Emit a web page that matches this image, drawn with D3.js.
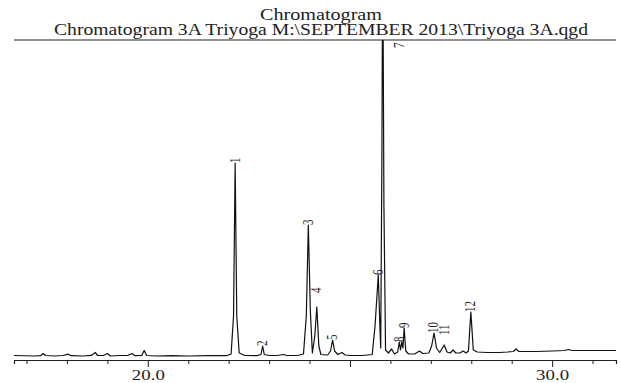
<!DOCTYPE html>
<html lang="en">
<head>
<meta charset="utf-8">
<title>Chromatogram</title>
<script src="https://cdn.jsdelivr.net/npm/d3@7/dist/d3.min.js"></script>
<style>
body{margin:0;background:#fff;}
svg text{font-family:"Liberation Serif","Times New Roman",serif;fill:#222;}
</style>
</head>
<body>
<div id="chart"></div>
<script>
// header text
var titleLines = ["Chromatogram", "Chromatogram 3A Triyoga M:\\SEPTEMBER 2013\\Triyoga 3A.qgd"]

// trace: retention time (min) and detector signal
var traceTime = [16.69, 17.2, 17.35, 17.41, 17.47, 17.7, 17.9, 18.03, 18.1, 18.4, 18.6, 18.7, 18.76, 18.9, 19.0, 19.07,
  19.3, 19.5, 19.61, 19.68, 19.85, 19.91, 19.97, 20.2, 20.6, 21.0, 21.5, 21.95, 22.06, 22.12, 22.16, 22.2, 22.26,
  22.4, 22.7, 22.8, 22.84, 22.88, 23.0, 23.2, 23.35, 23.45, 23.7, 23.85, 23.92, 23.97, 24.02, 24.07, 24.13, 24.18,
  24.23, 24.28, 24.45, 24.52, 24.57, 24.62, 24.7, 24.8, 24.88, 25.0, 25.3, 25.55, 25.62, 25.7, 25.74, 25.76, 25.79,
  25.81, 25.84, 25.88, 25.95, 26.03, 26.1, 26.18, 26.22, 26.25, 26.28, 26.31, 26.34, 26.38, 26.45, 26.6, 26.72,
  26.8, 26.95, 27.02, 27.08, 27.14, 27.22, 27.33, 27.4, 27.48, 27.55, 27.62, 27.72, 27.8, 27.87, 27.93, 27.99,
  28.05, 28.15, 28.4, 28.7, 28.9, 29.04, 29.11, 29.18, 29.3, 29.6, 30.0, 30.3, 30.4, 30.5, 31.0, 31.58]
var traceSignal = [0.5, 0, 0.3, 2.5, 0.5, 0, 0.5, 1.8, 0.3, 0, 0.6, 3.5, 0.5, 0.5, 2.5, 0,
  0.5, 0.5, 2.5, 0.3, 0.5, 5.5, 0.5, 0, 0.3, 0, 0.3, 0.3, 2, 40, 193, 40, 3,
  0.5, 0.3, 1.5, 10, 1.5, 0.5, 0.5, 1.5, 0.5, 0.5, 2, 40, 131, 45, 3, 20, 49,
  10, 1.5, 1, 5, 16, 5, 1.5, 3.5, 1, 0.5, 0.5, 1.5, 30, 81, 30, 8, 200,
  420, 150, 6, 3, 7, 2, 4, 14, 6, 14, 8, 28, 5, 2, 2, 5,
  2.5, 3, 10, 23, 8, 3.5, 11, 4, 3, 6, 3, 3, 5, 3, 5, 44,
  6, 4, 3.5, 3.5, 4, 4.5, 7, 4.5, 4.5, 4.5, 5, 5.5, 6.5, 5.5, 5.5, 5.5]

// numbered peaks
var peakNames = ["1", "2", "3", "4", "5", "6", "7", "8", "9", "10", "11", "12"]
var peakTimes = [22.16, 22.84, 23.97, 24.18, 24.57, 25.70, 25.81, 26.22, 26.34, 27.08, 27.33, 27.99]
var peakSignal = [193, 10, 131, 49, 16, 81, 420, 14, 28, 23, 11, 44]

// axis
var tickValues = [17, 18, 19, 20, 21, 22, 23, 24, 25, 26, 27, 28, 29, 30, 31]
var tickLabels = {20: "20.0", 30: "30.0"}

var w = 621, h = 383
var mLeft = 14, mRight = 616, plotTop = 40, base = 356, axisY = 360

var x = d3.scaleLinear().domain([16.69, 31.58]).range([mLeft, mRight])
var y = d3.scaleLinear().domain([0, 316]).range([base, plotTop])

var svg = d3.select("#chart").append("svg")
  .attr("width", w)
  .attr("height", h)

// title (the scan is stretched sideways, so the text is too)
var titleWidth = [122, 534]
svg.selectAll(".title")
  .data(titleLines)
  .enter()
  .append("text")
  .attr("class", "title")
  .attr("x", 321)
  .attr("y", function(d, i){ return 20 + i * 15 })
  .attr("text-anchor", "middle")
  .attr("textLength", function(d, i){ return titleWidth[i] })
  .attr("lengthAdjust", "spacingAndGlyphs")
  .style("font-size", "16px")
  .text(function(d){ return d })

// top rule
svg.append("line")
  .attr("x1", mLeft).attr("x2", mRight)
  .attr("y1", plotTop).attr("y2", plotTop)
  .attr("stroke", "#222")
  .attr("stroke-width", 1.2)

svg.append("clipPath").attr("id", "plot")
  .append("rect")
  .attr("x", mLeft).attr("y", plotTop)
  .attr("width", mRight - mLeft).attr("height", axisY - plotTop)

var pts = traceTime.map(function(t, i){ return [t, traceSignal[i]] })

var line = d3.line()
  .x(function(d){ return x(d[0]) })
  .y(function(d){ return y(d[1]) })

svg.append("path")
  .datum(pts)
  .attr("clip-path", "url(#plot)")
  .attr("d", line)
  .attr("fill", "none")
  .attr("stroke", "#111")
  .attr("stroke-width", 1.2)
  .attr("stroke-linejoin", "round")

// peak labels, rotated like the instrument software prints them
var nudge = {"4": [0, -14], "7": [17, 0], "11": [0, -10]}
svg.selectAll(".peak")
  .data(peakNames)
  .enter()
  .append("text")
  .attr("class", "peak")
  .attr("transform", function(d, i){
    var n = nudge[d] || [0, 0]
    var py = Math.max(y(peakSignal[i]), plotTop + 8)
    return "translate(" + (x(peakTimes[i]) + n[0]) + "," + (py + n[1]) + ") rotate(-90) scale(1,1.25)"
  })
  .attr("dominant-baseline", "central")
  .style("font-size", "11px")
  .text(function(d){ return d })

// time axis
var axis = d3.axisBottom(x)
  .tickValues(tickValues)
  .tickSizeOuter(0)
  .tickSize(4)
  .tickFormat(function(d){ return tickLabels[d] || "" })

var gx = svg.append("g")
  .attr("transform", "translate(0," + axisY + ")")
  .call(axis)

gx.select(".domain").attr("stroke", "#222").attr("stroke-width", 1.2)
gx.selectAll(".tick line")
  .attr("stroke", "#222")
  .attr("y2", function(d){ return d % 5 == 0 ? 7 : 4 })
gx.selectAll(".tick text")
  .attr("y", 9)
  .attr("textLength", function(d){ return tickLabels[d] ? 33 : null })
  .attr("lengthAdjust", "spacingAndGlyphs")
  .style("font-size", "15px")
  .style("font-family", "'Liberation Serif', serif")
  .attr("fill", "#222")
</script>
</body>
</html>
